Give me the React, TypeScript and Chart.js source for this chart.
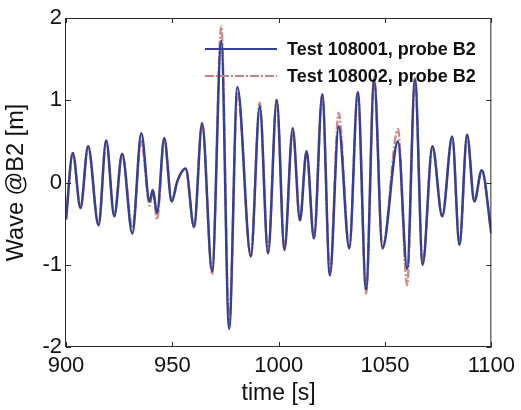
import React, { useEffect, useRef } from "react";
import { Chart, registerables } from "chart.js";

Chart.register(...registerables);

const times = [
  900, 903.2, 906.8, 910.4, 915.3, 918.9, 922.7, 926.4, 931.2, 935.4, 939.3, 940.8, 942.8, 946.2, 949.7,
  952.4, 956.3, 960.2, 964.0, 968.7, 973.0, 976.7, 980.6, 986.9, 991.1, 995.0, 999.1, 1002.7, 1006.6,
  1010.0, 1013.1, 1016.6, 1020.5, 1024.1, 1028.2, 1033.2, 1037.2, 1041.1, 1044.9, 1048.8, 1056.1,
  1060.4, 1064.1, 1067.7, 1072.3, 1076.9, 1081.6, 1085.0, 1088.6, 1092.0, 1095.5, 1100,
];

const test108001 = [
  -0.45, 0.36, -0.31, 0.44, -0.52, 0.51, -0.41, 0.35, -0.62, 0.6, -0.23, -0.09, -0.37, 0.54, -0.23,
  0.02, 0.17, -0.54, 0.72, -1.08, 1.72, -1.78, 1.16, -0.9, 0.93, -0.86, 1.0, -0.82, 0.66,
  -0.46, 0.38, -0.68, 1.07, -1.13, 0.68, -0.8, 1.1, -1.3, 1.25, -0.8, 0.5,
  -1.05, 1.25, -1.0, 0.44, -0.41, 0.56, -0.76, 0.58, -0.23, 0.15, -0.62,
];

const test108002 = [
  -0.45, 0.36, -0.31, 0.44, -0.52, 0.51, -0.41, 0.35, -0.55, 0.5, -0.28, -0.09, -0.45, 0.52, -0.23,
  0.02, 0.17, -0.55, 0.72, -1.12, 1.9, -1.72, 1.1, -0.9, 0.97, -0.86, 1.02, -0.82, 0.6,
  -0.46, 0.38, -0.68, 1.07, -1.1, 0.85, -0.8, 1.1, -1.35, 1.28, -0.8, 0.65,
  -1.25, 1.27, -0.98, 0.44, -0.41, 0.56, -0.76, 0.58, -0.23, 0.15, -0.62,
];

const legendLabels = ["Test 108001, probe B2", "Test 108002, probe B2"];
const xTicks = [900, 950, 1000, 1050, 1100];
const yTicks = [-2, -1, 0, 1, 2];

const BLUE = "#353f94";
const RED = "rgba(185,95,95,0.72)";
const LEGEND_RED = "#c48682";
const DASH = [9, 2, 2, 2];
const FONT = "'Liberation Sans', Arial, sans-serif";

const boxPlugin = {
  id: "boxPlugin",
  afterDatasetsDraw(chart: any) {
    const { ctx, chartArea, scales } = chart;
    const { left, right, top, bottom } = chartArea;
    ctx.save();
    ctx.strokeStyle = "#2a2a2a";
    ctx.lineWidth = 1;
    ctx.strokeRect(left - 0.5, top + 0.5, right - left, bottom - top - 1);
    const tl = 5;
    ctx.beginPath();
    xTicks.forEach((v) => {
      const px = Math.round(scales.x.getPixelForValue(v)) + 0.5;
      ctx.moveTo(px, bottom);
      ctx.lineTo(px, bottom - tl);
      ctx.moveTo(px, top);
      ctx.lineTo(px, top + tl);
    });
    yTicks.forEach((v) => {
      const py = Math.round(scales.y.getPixelForValue(v)) + 0.5;
      ctx.moveTo(left, py);
      ctx.lineTo(left + tl, py);
      ctx.moveTo(right, py);
      ctx.lineTo(right - tl, py);
    });
    ctx.stroke();
    ctx.restore();
  },
  afterDraw(chart: any) {
    const { ctx } = chart;
    ctx.save();
    const x0 = 205;
    const x1 = 277;
    const rows = [49, 76];
    const colors = [BLUE, LEGEND_RED];
    chart.data.datasets.forEach((ds: any, i: number) => {
      const y = rows[i];
      ctx.beginPath();
      ctx.strokeStyle = colors[i];
      ctx.lineWidth = 2;
      ctx.setLineDash(ds.borderDash || []);
      ctx.moveTo(x0, y);
      ctx.lineTo(x1, y);
      ctx.stroke();
      ctx.setLineDash([]);
      ctx.fillStyle = "#111";
      ctx.font = "bold 18px " + FONT;
      ctx.textBaseline = "middle";
      ctx.textAlign = "left";
      ctx.fillText(legendLabels[i], 287, y + 1);
    });
    ctx.restore();
  },
};

export default function App() {
  const ref = useRef<HTMLCanvasElement | null>(null);
  useEffect(() => {
    if (!ref.current) return;
    const chart = new Chart(ref.current, {
      type: "line",
      data: {
        datasets: [
          {
            label: legendLabels[0],
            data: times.map((t, i) => ({ x: t, y: test108001[i] })),
            borderColor: BLUE,
            borderWidth: 2.5,
            pointRadius: 0,
            cubicInterpolationMode: "monotone",
            fill: false,
          },
          {
            label: legendLabels[1],
            data: times.map((t, i) => ({ x: t, y: test108002[i] })),
            borderColor: RED,
            borderWidth: 2.4,
            borderDash: DASH,
            pointRadius: 0,
            cubicInterpolationMode: "monotone",
            fill: false,
          },
        ],
      },
      options: {
        animation: false,
        responsive: false,
        maintainAspectRatio: false,
        layout: { padding: { top: 18, right: 23, left: 0, bottom: 0 } },
        plugins: { legend: { display: false }, tooltip: { enabled: false } },
        scales: {
          x: {
            type: "linear",
            min: 900,
            max: 1100,
            grid: { display: false, drawTicks: false, tickLength: 0 },
            border: { display: false },
            afterBuildTicks: (s: any) => {
              s.ticks = xTicks.map((v) => ({ value: v }));
            },
            afterFit: (s: any) => {
              s.height = 63;
            },
            ticks: {
              color: "#111",
              padding: 6,
              maxRotation: 0,
              autoSkip: false,
              callback: (v: any) => String(v),
              font: { family: FONT, size: 22 },
            },
            title: {
              display: true,
              text: "time [s]",
              color: "#111",
              padding: { top: 0, bottom: 3 },
              font: { family: FONT, size: 23 },
            },
          },
          y: {
            type: "linear",
            min: -2,
            max: 2,
            grid: { display: false, drawTicks: false, tickLength: 0 },
            border: { display: false },
            afterBuildTicks: (s: any) => {
              s.ticks = yTicks.map((v) => ({ value: v }));
            },
            afterFit: (s: any) => {
              s.width = 66;
            },
            ticks: {
              color: "#111",
              padding: 4,
              autoSkip: false,
              callback: (v: any) => String(v),
              font: { family: FONT, size: 22 },
            },
            title: {
              display: true,
              text: "Wave @B2 [m]",
              color: "#111",
              padding: { top: 2, bottom: 3 },
              font: { family: FONT, size: 23.5 },
            },
          },
        },
      },
      plugins: [boxPlugin],
    } as any);
    return () => chart.destroy();
  }, []);
  return (
    <div style={{ position: "fixed", left: 0, top: 0, width: 521, height: 410, background: "#fff" }}>
      <canvas ref={ref} width={521} height={410} style={{ width: 521, height: 410, display: "block" }} />
    </div>
  );
}
